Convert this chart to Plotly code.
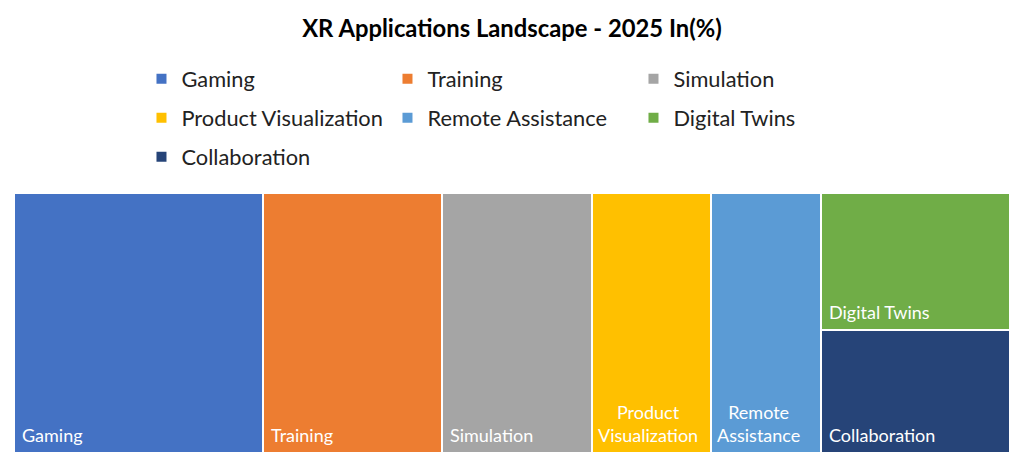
import plotly.graph_objects as go

# data (% share, 2025)
categories = ["Gaming", "Training", "Simulation", "Product Visualization",
              "Remote Assistance", "Digital Twins", "Collaboration"]
values = [25, 18, 15, 12, 11, 10, 9]
tile_labels = ["Gaming", "Training", "Simulation", "Product<br>Visualization",
               "Remote<br>Assistance", "Digital Twins", "Collaboration"]
# which column of the treemap each category sits in (last two share one)
column_of = [0, 1, 2, 3, 4, 5, 5]
colors = ["#4472C4", "#ED7D31", "#A5A5A5", "#FFC000", "#5B9BD5", "#70AD47", "#264478"]

FONT = "Lato"

# column widths = sum of member values, tiles inside a column split the height
ncols = max(column_of) + 1
col_tot = [sum(v for v, c in zip(values, column_of) if c == k) for k in range(ncols)]
col_left = [sum(col_tot[:k]) for k in range(ncols)]
total = sum(values)

fig = go.Figure()
annotations = []
for i, (cat, val) in enumerate(zip(categories, values)):
    k = column_of[i]
    # members stack top-down in list order
    members = [j for j in range(len(values)) if column_of[j] == k]
    below = sum(values[j] for j in members if j > i)
    height = 100 * val / col_tot[k]
    base = 100 * below / col_tot[k]
    row = i // 3
    fig.add_trace(go.Bar(
        x=[col_left[k] + col_tot[k] / 2], y=[height], base=[base], width=[col_tot[k]],
        name=cat, marker=dict(color=colors[i], line=dict(color="white", width=2)),
        legend="legend" if row == 0 else f"legend{row + 1}",
        hovertemplate=f"{cat}: {val}%<extra></extra>",
    ))
    two_line = "<br>" in tile_labels[i]
    annotations.append(dict(
        x=col_left[k], y=base, xref="x", yref="y", text=tile_labels[i],
        xanchor="left", yanchor="bottom", align="center", showarrow=False,
        xshift=4 if two_line else 6, yshift=5,
        font=dict(family=FONT, size=18, color="white"),
    ))

legend_style = dict(orientation="h", xanchor="left", yanchor="middle", entrywidth=201,
                    font=dict(family=FONT, size=21.8, color="#222222"),
                    bgcolor="rgba(0,0,0,0)", itemclick=False)
fig.update_layout(
    width=1024, height=468,
    margin=dict(l=14, r=14, t=193, b=15, autoexpand=False),
    plot_bgcolor="white", paper_bgcolor="white",
    barmode="overlay", bargap=0,
    title=dict(text="<b>XR Applications Landscape - 2025 In(%)</b>", x=0.5, xanchor="center",
               yref="container", y=0.939, yanchor="middle",
               font=dict(family=FONT, size=23.8, color="black")),
    xaxis=dict(range=[0, total], visible=False, fixedrange=True),
    yaxis=dict(range=[0, 100], visible=False, fixedrange=True),
    legend=dict(x=0.128, y=1 + (193 - 79) / 260, **legend_style),
    legend2=dict(x=0.128, y=1 + (193 - 118) / 260, **legend_style),
    legend3=dict(x=0.128, y=1 + (193 - 157) / 260, **legend_style),
    annotations=annotations,
)

# drop the default 8px body margin so the figure sits at the page origin
fig.write_html("out.html", config={"displayModeBar": False},
               post_script="document.body.style.margin='0';")
